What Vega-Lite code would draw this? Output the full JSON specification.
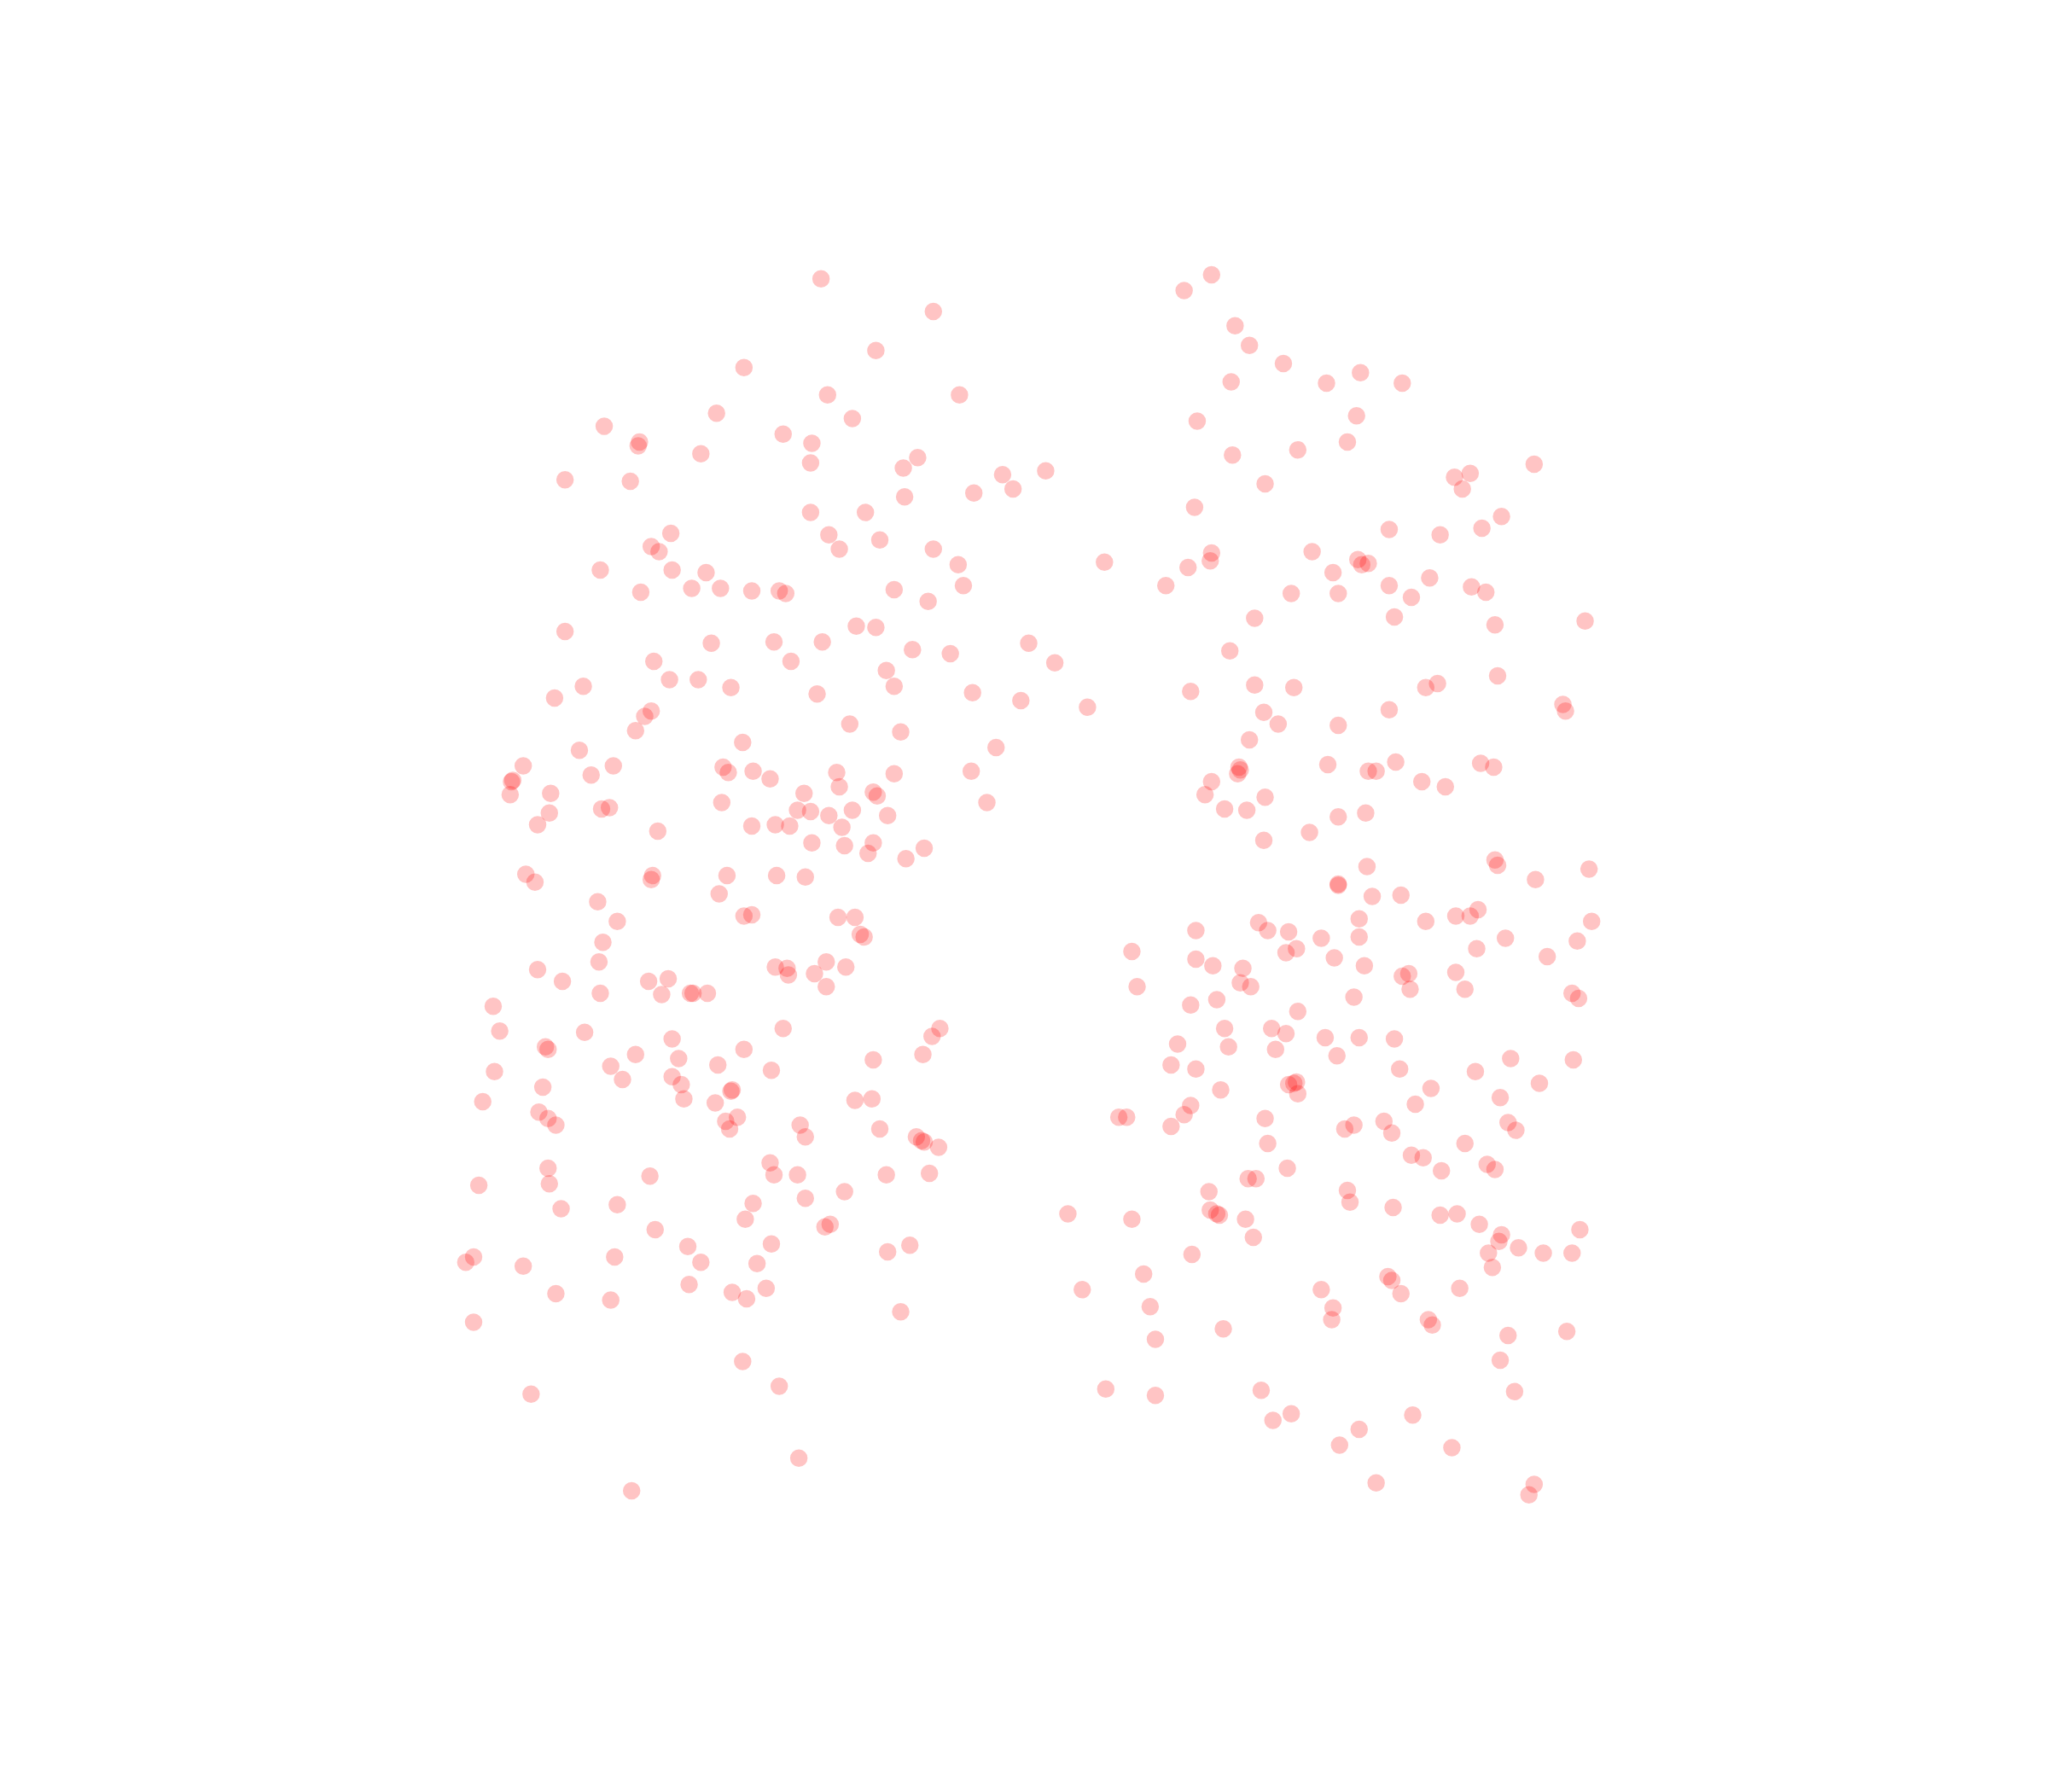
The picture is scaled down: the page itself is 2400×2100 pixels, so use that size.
{"$schema":"https://vega.github.io/schema/vega-lite/v6.json","width":2400,"height":2100,"padding":0,"autosize":{"type":"fit","contains":"padding"},"background":"white","config":{"view":{"stroke":null}},"data":{"values":[
[628,213],[714,238],[670,268],[569,281],[734,302],[633,302],[548,316],[652,320],[462,326],[599,332],[489,338],[488,341],[621,339],[536,347],[620,354],[702,350],[691,358],[432,367],[482,368],[767,363],[800,360],[775,374],[745,377],[692,380],[620,392],[662,392],[513,408],[634,409],[673,413],[498,418],[504,422],[642,420],[714,420],[733,432],[459,436],[514,436],[540,438],[737,448],[684,451],[529,450],[551,450],[575,452],[596,452],[601,454],[490,453],[710,460],[655,479],[670,480],[432,483],[592,491],[629,491],[544,492],[787,492],[698,497],[727,500],[500,506],[605,506],[807,507],[678,513],[512,520],[534,520],[446,525],[559,526],[684,525],[625,531],[744,530],[424,534],[781,536],[832,541],[498,544],[493,548],[650,554],[486,559],[689,560],[568,568],[762,572],[443,574],[400,586],[469,586],[553,587],[557,591],[576,590],[640,591],[684,592],[743,590],[452,593],[589,596],[392,597],[391,598],[642,602],[390,608],[421,607],[615,607],[668,606],[671,609],[755,614],[552,614],[460,619],[466,618],[420,622],[610,620],[620,621],[634,624],[652,620],[679,624],[411,631],[575,632],[593,631],[604,632],[644,633],[503,636],[621,645],[646,647],[668,645],[707,649],[664,653],[693,657],[402,669],[409,675],[499,670],[498,673],[556,670],[594,670],[616,671],[550,684],[457,690],[472,705],[569,701],[575,700],[641,702],[654,702],[658,715],[661,717],[461,721],[458,736],[632,736],[593,740],[602,741],[603,746],[647,740],[623,745],[411,742],[430,751],[496,751],[511,749],[632,755],[459,760],[506,761],[528,760],[530,760],[541,760],[377,770],[382,789],[447,790],[599,787],[719,787],[713,793],[514,795],[417,801],[419,803],[569,803],[486,807],[706,807],[519,810],[668,811],[467,816],[549,815],[378,820],[590,819],[514,824],[476,826],[521,830],[415,832],[559,835],[560,834],[523,841],[547,844],[654,842],[667,841],[369,843],[412,851],[419,856],[425,861],[564,855],[555,858],[558,864],[612,861],[673,864],[616,870],[701,870],[705,873],[707,874],[718,878],[589,890],[419,894],[497,900],[592,899],[610,899],[678,899],[711,898],[366,907],[420,906],[646,912],[616,917],[576,921],[472,922],[429,925],[570,933],[631,939],[635,937],[501,941],[590,952],[696,953],[526,954],[679,958],[362,962],[356,966],[470,962],[536,966],[579,967],[400,969],[527,983],[586,986],[425,990],[560,989],[571,994],[467,995],[689,1004],[362,1012],[568,1042],[596,1061],[406,1067],[611,1116],[483,1141],
[927,210],[906,222],[945,249],[956,264],[982,278],[942,292],[1015,293],[1041,285],[1073,293],[1038,318],[916,322],[1031,338],[993,344],[943,348],[968,370],[1174,355],[1125,362],[1113,365],[1119,374],[914,388],[1149,395],[1134,404],[1102,409],[1063,405],[1004,422],[927,423],[926,429],[845,430],[909,434],[1039,428],[1042,432],[1047,431],[1020,438],[1094,442],[892,448],[1063,448],[1126,449],[1137,453],[988,454],[1024,454],[1080,457],[1067,472],[960,473],[1144,478],[1213,475],[941,498],[1146,517],[1100,523],[1091,526],[960,524],[990,526],[911,529],[1196,539],[1198,544],[1063,543],[967,545],[978,554],[1024,555],[956,566],[1016,585],[1068,583],[1133,584],[1143,587],[948,587],[949,589],[947,592],[1047,590],[1053,590],[927,598],[1088,598],[1106,602],[922,608],[968,610],[937,619],[954,620],[1045,622],[1024,625],[1002,637],[967,643],[1144,658],[1146,662],[1046,663],[1216,665],[1175,673],[1024,676.5],[1024,677.5],[1072,685],[1050,686],[1131,696],[1125,701],[1114,701],[1091,705],[1040,703],[1218,705],[963,706],[970,712],[915,712],[986,713],[1011,718],[1040,717],[1152,718],[1207,720],[1130,726],[866,728],[992,726],[984,729],[1184,732],[1021,733],[915,734],[928,739],[1044,739],[951,741],[1078,745],[1073,747],[1114,744],[949,752],[957,755],[870,755],[1079,757],[1121,757],[1203,760],[1208,764],[931,765],[1036,763],[911,769],[993,774],[937,787],[973,787],[984,791],[1014,794],[1040,794],[1067,795],[901,799],[940,801],[976,803],[1023,808],[1156,810],[1204,811],[896,815],[915,818],[1071,818],[1129,820],[1178,829],[986,830],[990,829],[992,828],[993,837],[934,834],[1095,833],[1148,840],[911,846],[1083,845],[906,853],[856,855],[862,855],[968,856],[1059,858],[896,862],[1036,861],[1029,864],[1065,867],[1154,859],[1160,865],[970,875],[1121,875],[1080,884],[1089,886],[985,894],[1138,891],[1144,895],[1103,896],[955,902],[961,902],[925,912],[1031,911],[1033,920],[1066,924],[926,926],[931,929],[933,930],[817,929],[866,933],[953,933],[1102,930],[1115,929],[1132,937],[1209,941],[959,947],[1149,945],[1147,950],[1162,955],[912,960],[1139,959],[1181,959],[1203,959],[1142,970],[875,975],[1062,977],[1065,980],[1072,990],[1117,986],[828,987],[1011,987],[880,1000],[1020,1001],[1019,1010],[1093,1010],[1096,1014],[936,1017],[1199,1019],[1154,1022],[884,1025],[1148,1041],[846,1063],[884,1068],[965,1064],[1159,1065],[988,1082],[974,1087],[1081,1083],[1040,1094],[1025,1106],[1111,1108],[1053,1135],[1174,1136],[1170,1144]
]},"mark":{"type":"circle","size":420,"color":"#ff0000","opacity":0.23},"encoding":{"x":{"field":"0","type":"quantitative","scale":{"domain":[-0.6,1567.4]},"axis":null},"y":{"field":"1","type":"quantitative","scale":{"domain":[1371.6,-0.4]},"axis":null}}}
